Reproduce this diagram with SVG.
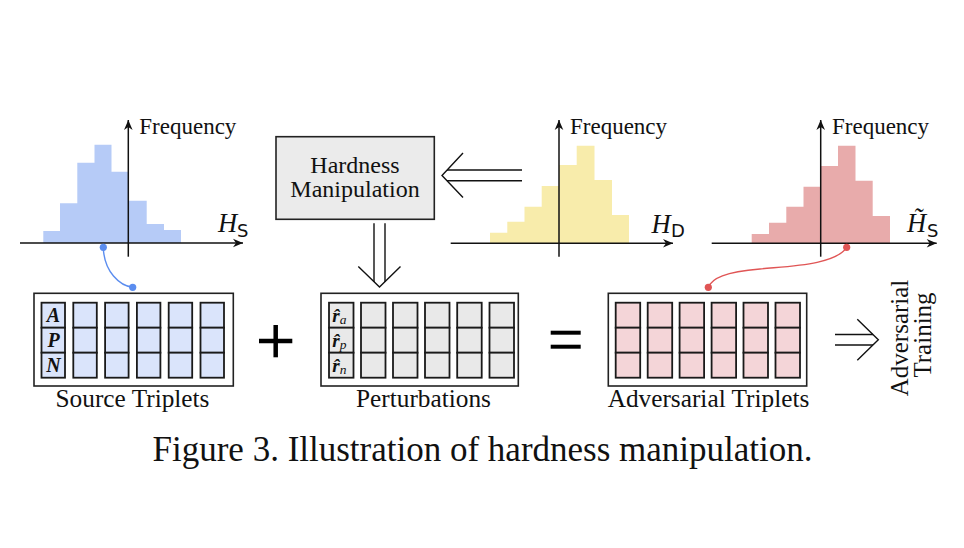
<svg xmlns="http://www.w3.org/2000/svg" width="964" height="548" viewBox="0 0 964 548">
<defs>
<style>
.t{font-family:"Liberation Serif","Times New Roman",serif;fill:#111}
.ax{stroke:#111;stroke-width:1.5;fill:none}
.box{fill:#fff;stroke:#222;stroke-width:1.6}
.cs rect{fill:#dae4fb;stroke:#1a1a1a;stroke-width:1.8}
.cp rect{fill:#e9e9e9;stroke:#1a1a1a;stroke-width:1.8}
.ca rect{fill:#f4d5d8;stroke:#1a1a1a;stroke-width:1.8}
.dbl{stroke:#111;stroke-width:1.4;fill:none}
.sub{font-family:"DejaVu Sans","Liberation Sans",sans-serif;fill:#111}
</style>
<marker id="ah" viewBox="-11 -5 12 10" refX="0" refY="0" markerWidth="12" markerHeight="10" markerUnits="userSpaceOnUse" orient="auto">
<path d="M0,0 L-10,-4.3 L-7,0 L-10,4.3 Z" fill="#111"/>
</marker>
</defs>
<rect width="964" height="548" fill="#fff"/>

<g id="hist-source">
<path fill="#b6cbf7" d="M43.3,243 V231 H60 V203.3 H77.3 V162.7 H94.5 V144.7 H111.5 V171.7 H128.3 V200.7 H146.7 V224 H164 V230 H181 V243 Z"/>
<line class="ax" x1="20" y1="243" x2="243" y2="243" marker-end="url(#ah)"/>
<line class="ax" x1="128.3" y1="256.7" x2="128.3" y2="120" marker-end="url(#ah)"/>
<text class="t" x="139.3" y="134" font-size="23">Frequency</text>
<text class="t" x="218" y="231.7" font-size="26.5" font-style="italic">H</text>
<text class="sub" x="237" y="237.3" font-size="18">S</text>
</g>

<g id="hist-target">
<path fill="#f8ecab" d="M490,243.3 V232.7 H507.3 V221.7 H524.5 V206.7 H541.7 V186 H559 V165 H576.7 V145.7 H594.5 V180 H612 V215 H629 V243.3 Z"/>
<line class="ax" x1="450.7" y1="243.3" x2="673" y2="243.3" marker-end="url(#ah)"/>
<line class="ax" x1="559" y1="256.7" x2="559" y2="120" marker-end="url(#ah)"/>
<text class="t" x="570" y="134" font-size="23">Frequency</text>
<text class="t" x="651.5" y="233.3" font-size="26.5" font-style="italic">H</text>
<text class="sub" x="671" y="237.3" font-size="18">D</text>
</g>

<g id="hist-adv">
<path fill="#e8abab" d="M751.7,243.3 V234 H769 V222.7 H786.3 V206.7 H803.5 V186.7 H820.7 V166 H838 V145.7 H855.5 V180.7 H872.7 V216 H890 V243.3 Z"/>
<line class="ax" x1="711.7" y1="243.3" x2="936.7" y2="243.3" marker-end="url(#ah)"/>
<line class="ax" x1="820.7" y1="256.7" x2="820.7" y2="120" marker-end="url(#ah)"/>
<text class="t" x="832" y="134" font-size="23">Frequency</text>
<text class="t" x="907" y="231.7" font-size="26.5" font-style="italic">H̃</text>
<text class="sub" x="927" y="237.3" font-size="18">S</text>
</g>

<g id="hardness-manipulation">
<rect x="276" y="136.7" width="158.3" height="82.6" fill="#ebebeb" stroke="#222" stroke-width="1.6"/>
<text class="t" font-size="24" text-anchor="middle"><tspan x="355" y="172.5">Hardness</tspan><tspan x="355" y="197.3">Manipulation</tspan></text>
</g>

<g id="source-triplets">
<rect class="box" x="34" y="293.3" width="199.3" height="92.7"/>
<g class="cs">
<rect x="41.5" y="302.7" width="23.5" height="25"/><rect x="41.5" y="327.7" width="23.5" height="25"/><rect x="41.5" y="352.7" width="23.5" height="25"/>
<rect x="73.3" y="302.7" width="23.5" height="25"/><rect x="73.3" y="327.7" width="23.5" height="25"/><rect x="73.3" y="352.7" width="23.5" height="25"/>
<rect x="105.1" y="302.7" width="23.5" height="25"/><rect x="105.1" y="327.7" width="23.5" height="25"/><rect x="105.1" y="352.7" width="23.5" height="25"/>
<rect x="136.9" y="302.7" width="23.5" height="25"/><rect x="136.9" y="327.7" width="23.5" height="25"/><rect x="136.9" y="352.7" width="23.5" height="25"/>
<rect x="168.7" y="302.7" width="23.5" height="25"/><rect x="168.7" y="327.7" width="23.5" height="25"/><rect x="168.7" y="352.7" width="23.5" height="25"/>
<rect x="200.5" y="302.7" width="23.5" height="25"/><rect x="200.5" y="327.7" width="23.5" height="25"/><rect x="200.5" y="352.7" width="23.5" height="25"/>
</g>
<g class="t" font-size="20" font-weight="bold" font-style="italic" text-anchor="middle">
<text x="53.5" y="322.3">A</text>
<text x="53.5" y="347.3">P</text>
<text x="53.5" y="372.3">N</text>
</g>
<text class="t" x="132.5" y="407" font-size="25.3" text-anchor="middle">Source Triplets</text>
</g>

<g id="plus">
<line x1="259" y1="341" x2="292.3" y2="341" stroke="#000" stroke-width="4.5"/>
<line x1="275.7" y1="325" x2="275.7" y2="357.3" stroke="#000" stroke-width="4.5"/>
</g>

<g id="perturbations">
<rect class="box" x="321" y="293.3" width="197.3" height="92.7"/>
<g class="cp">
<rect x="329" y="302.7" width="24.5" height="25"/><rect x="329" y="327.7" width="24.5" height="25"/><rect x="329" y="352.7" width="24.5" height="25"/>
<rect x="361" y="302.7" width="24.5" height="25"/><rect x="361" y="327.7" width="24.5" height="25"/><rect x="361" y="352.7" width="24.5" height="25"/>
<rect x="393" y="302.7" width="24.5" height="25"/><rect x="393" y="327.7" width="24.5" height="25"/><rect x="393" y="352.7" width="24.5" height="25"/>
<rect x="425" y="302.7" width="24.5" height="25"/><rect x="425" y="327.7" width="24.5" height="25"/><rect x="425" y="352.7" width="24.5" height="25"/>
<rect x="457.2" y="302.7" width="24.5" height="25"/><rect x="457.2" y="327.7" width="24.5" height="25"/><rect x="457.2" y="352.7" width="24.5" height="25"/>
<rect x="489.5" y="302.7" width="24.5" height="25"/><rect x="489.5" y="327.7" width="24.5" height="25"/><rect x="489.5" y="352.7" width="24.5" height="25"/>
</g>
<g class="t" font-size="19">
<text x="332.3" y="322"><tspan font-weight="bold" font-style="italic">r̂</tspan><tspan font-style="italic" font-size="13.5" dy="2">a</tspan></text>
<text x="332.3" y="347"><tspan font-weight="bold" font-style="italic">r̂</tspan><tspan font-style="italic" font-size="13.5" dy="2">p</tspan></text>
<text x="332.3" y="372"><tspan font-weight="bold" font-style="italic">r̂</tspan><tspan font-style="italic" font-size="13.5" dy="2">n</tspan></text>
</g>
<text class="t" x="423.5" y="407" font-size="25.3" text-anchor="middle">Perturbations</text>
</g>

<g id="equals">
<line x1="550.7" y1="332.7" x2="580.7" y2="332.7" stroke="#000" stroke-width="4"/>
<line x1="550.7" y1="346.7" x2="580.7" y2="346.7" stroke="#000" stroke-width="4"/>
</g>

<g id="adversarial-triplets">
<rect class="box" x="608.3" y="293.3" width="198.4" height="92.7"/>
<g class="ca">
<rect x="615.7" y="302.7" width="24.5" height="25"/><rect x="615.7" y="327.7" width="24.5" height="25"/><rect x="615.7" y="352.7" width="24.5" height="25"/>
<rect x="647.7" y="302.7" width="24.5" height="25"/><rect x="647.7" y="327.7" width="24.5" height="25"/><rect x="647.7" y="352.7" width="24.5" height="25"/>
<rect x="679.6" y="302.7" width="24.5" height="25"/><rect x="679.6" y="327.7" width="24.5" height="25"/><rect x="679.6" y="352.7" width="24.5" height="25"/>
<rect x="711.6" y="302.7" width="24.5" height="25"/><rect x="711.6" y="327.7" width="24.5" height="25"/><rect x="711.6" y="352.7" width="24.5" height="25"/>
<rect x="743.5" y="302.7" width="24.5" height="25"/><rect x="743.5" y="327.7" width="24.5" height="25"/><rect x="743.5" y="352.7" width="24.5" height="25"/>
<rect x="775.5" y="302.7" width="24.5" height="25"/><rect x="775.5" y="327.7" width="24.5" height="25"/><rect x="775.5" y="352.7" width="24.5" height="25"/>
</g>
<text class="t" x="708.5" y="407" font-size="25.3" text-anchor="middle">Adversarial Triplets</text>
</g>

<g id="adversarial-training">
<text class="t" font-size="25" text-anchor="middle" transform="translate(908,338) rotate(-90)">Adversarial</text>
<text class="t" font-size="25" text-anchor="middle" transform="translate(931,335) rotate(-90)">Training</text>
</g>

<g id="connectors">
<g class="dbl">
<line x1="447" y1="170" x2="522" y2="170"/>
<line x1="447" y1="180.7" x2="522" y2="180.7"/>
<polyline points="463,153 442,175.4 463,197.5"/>
<line x1="374" y1="223.3" x2="374" y2="282"/>
<line x1="385" y1="223.3" x2="385" y2="282"/>
<polyline points="358.3,266.5 379.5,287 400.5,266.5"/>
<line x1="835" y1="334.5" x2="873" y2="334.5"/>
<line x1="835" y1="345" x2="873" y2="345"/>
<polyline points="857.3,319.3 878.3,339.7 857.3,360.2"/>
</g>
<path d="M103.3,247.3 C104,272 120,286 132.7,287.3" fill="none" stroke="#5b8def" stroke-width="1.4"/>
<circle cx="103.3" cy="247.3" r="3.6" fill="#5b8def"/>
<circle cx="132.7" cy="287.3" r="3.6" fill="#5b8def"/>
<path d="M846.7,247.3 C835,265 790,266 760,269 C725,272 712,278 708.3,287.3" fill="none" stroke="#e05555" stroke-width="1.4"/>
<circle cx="846.7" cy="247.3" r="3.6" fill="#e05555"/>
<circle cx="708.3" cy="287.3" r="3.6" fill="#e05555"/>
</g>

<text id="caption" class="t" x="152.5" y="461" font-size="35">Figure 3. Illustration of hardness manipulation.</text>
</svg>
